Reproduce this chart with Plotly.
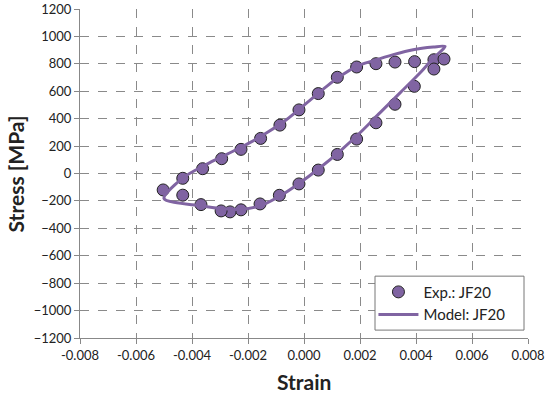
import plotly.graph_objects as go

# Experimental data (strain, stress MPa)
exp_strain = [-0.00503, -0.00433, -0.00362, -0.00294, -0.00225, -0.00155, -0.00086, -0.00018,
              0.00051, 0.00119, 0.00188, 0.00257, 0.00325, 0.00395, 0.00464, 0.00500,
              0.00464, 0.00394, 0.00325, 0.00257, 0.00188, 0.00119, 0.00051, -0.00018,
              -0.00088, -0.00157, -0.00225, -0.00264, -0.00296, -0.00368, -0.00433]
exp_stress = [-120, -35, 35, 108, 176, 256, 353, 464,
              583, 702, 777, 801, 813, 816, 830, 835,
              762, 636, 505, 370, 251, 139, 25, -76,
              -159, -222, -265, -280, -273, -227, -158]

# Model curve (closed loop)
model_strain = [-0.00500, -0.00368, -0.00300, -0.00229, -0.00157, -0.00086, -0.00014, 0.00057,
                0.00129, 0.00200, 0.00271, 0.00343, 0.00414, 0.00462, 0.00504,
                0.00462, 0.00390, 0.00319, 0.00248, 0.00188, 0.00129, 0.00081, 0.00010,
                -0.00062, -0.00133, -0.00205, -0.00276, -0.00348, -0.00431, -0.00500]
model_stress = [-183, -236, -256, -261, -236, -164, -67, 42,
                164, 297, 442, 588, 733, 842, 927,
                922, 903, 867, 823, 782, 709, 636, 515,
                394, 297, 212, 140, 67, -30, -183]

x_ticks = [-0.008, -0.006, -0.004, -0.002, 0.0, 0.002, 0.004, 0.006, 0.008]
x_labels = ["-0.008", "-0.006", "-0.004", "-0.002", "0.000", "0.002", "0.004", "0.006", "0.008"]
y_ticks = list(range(-1200, 1201, 200))

purple = "#8064A2"
font_family = "Lato, 'Open Sans', sans-serif"

fig = go.Figure()
fig.add_trace(go.Scatter(
    x=exp_strain, y=exp_stress, mode="markers", name="Exp.: JF20",
    marker=dict(size=12, color=purple, line=dict(color="#222222", width=1)),
))
fig.add_trace(go.Scatter(
    x=model_strain, y=model_stress, mode="lines", name="Model: JF20",
    line=dict(color=purple, width=3, shape="spline", smoothing=0.8),
))

fig.update_layout(
    width=545, height=398,
    margin=dict(l=80, r=17, t=9, b=60),
    paper_bgcolor="white", plot_bgcolor="white",
    font=dict(family=font_family, size=13, color="#222222"),
    showlegend=True,
    legend=dict(
        x=0.655, y=0.106, xanchor="left", yanchor="middle",
        bgcolor="rgba(0,0,0,0)", borderwidth=0,
        font=dict(size=15, family=font_family, color="#222222"),
        itemwidth=40, tracegroupgap=4,
    ),
    shapes=[
        dict(type="rect", xref="paper", yref="paper", x0=0.6585, x1=0.9911,
             y0=0.024, y1=0.188, fillcolor="white",
             line=dict(color="#777777", width=1), layer="above"),
    ],
    xaxis=dict(
        range=[-0.008, 0.008], tickvals=x_ticks, ticktext=x_labels,
        showgrid=True, gridcolor="#8a8a8a", griddash="dash", gridwidth=1,
        zeroline=False, showline=True, linecolor="#888888", linewidth=1,
        ticks="outside", ticklen=5, tickcolor="#888888",
        tickfont=dict(size=13), automargin=False,
    ),
    yaxis=dict(
        range=[-1200, 1200], tickvals=y_ticks,
        showgrid=True, gridcolor="#8a8a8a", griddash="dash", gridwidth=1,
        zeroline=False, showline=True, linecolor="#888888", linewidth=1,
        ticks="outside", ticklen=5, tickcolor="#888888",
        tickfont=dict(size=13), automargin=False,
    ),
    annotations=[
        dict(text="<b>Strain</b>", xref="paper", yref="paper", x=0.5, y=-0.133,
             xanchor="center", yanchor="middle", showarrow=False,
             font=dict(size=21, family=font_family, color="#222222")),
        dict(text="<b>Stress [MPa]</b>", xref="paper", yref="paper", x=-0.143, y=0.5,
             xanchor="center", yanchor="middle", showarrow=False, textangle=-90,
             font=dict(size=21, family=font_family, color="#222222")),
    ],
)

fig.write_html("out.html", post_script="document.body.style.margin='0';",
               config={"displayModeBar": False})
